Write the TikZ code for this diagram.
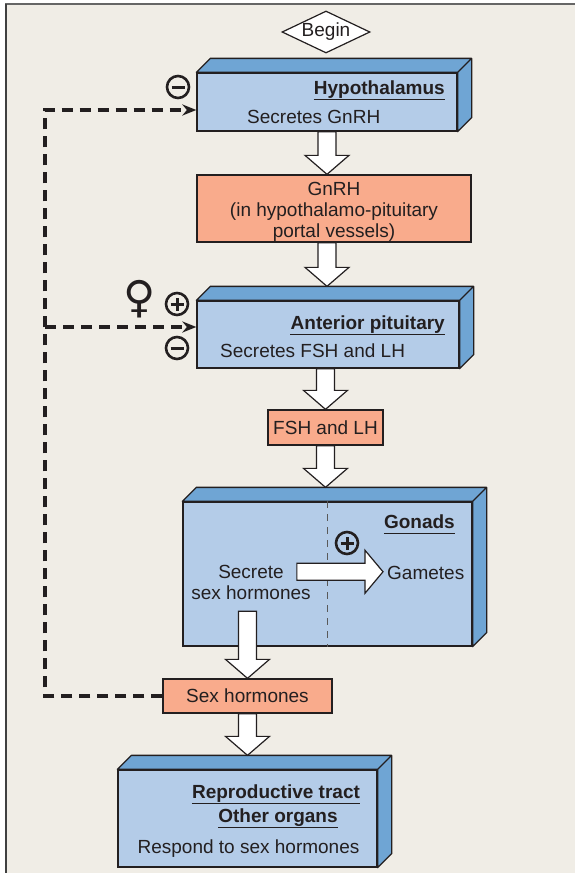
\documentclass[tikz,border=0pt]{standalone}
\usepackage{fontspec}
\setmainfont{Liberation Sans}
\newfontfamily\symfont{DejaVu Sans}
\usetikzlibrary{shapes.geometric,arrows.meta,calc}

\definecolor{paper}{HTML}{F0EDE6}
\definecolor{facelight}{HTML}{B4CCE8}
\definecolor{facedark}{HTML}{6FA5D4}
\definecolor{salmon}{HTML}{F9AB8C}
\definecolor{ink}{HTML}{231F20}

% broad white arrows: shaft from #1, tip at #2
\newcommand\fatdown[2]{%
  \draw[fat] let \p1=(#1), \p2=(#2) in
    (\x2-9pt,\y1) -- (\x2-9pt,\y2+19pt) -- (\x2-22pt,\y2+19pt) -- (\x2,\y2)
    -- (\x2+22pt,\y2+19pt) -- (\x2+9pt,\y2+19pt) -- (\x2+9pt,\y1) -- cycle;}
\newcommand\fatright[2]{%
  \draw[fat] let \p1=(#1), \p2=(#2) in
    (\x1,\y2+8.5pt) -- (\x2-18pt,\y2+8.5pt) -- (\x2-18pt,\y2+21.5pt) -- (\x2,\y2)
    -- (\x2-18pt,\y2-21.5pt) -- (\x2-18pt,\y2-8.5pt) -- (\x1,\y2-8.5pt) -- cycle;}

\begin{document}
\begin{tikzpicture}[x=1pt, y=-1pt]
    \tikzstyle{every node} = [font=\fontsize{19}{21}\selectfont, text=ink]
    \tikzstyle{box} = [rectangle, draw=ink, line width=1.3pt, fill=facelight, inner sep=0pt]
    \tikzstyle{tag} = [rectangle, draw=ink, line width=1.3pt, fill=salmon, inner sep=0pt, align=center]
    \tikzstyle{side} = [draw=ink, line width=1.3pt, fill=facedark, line join=round]
    \tikzstyle{txt} = [inner sep=0pt, text height=14pt, text depth=4.5pt]
    \tikzstyle{title} = [txt, text depth=5pt, font=\fontsize{19}{21}\selectfont\bfseries]
    \tikzstyle{fat} = [draw=ink, line width=1.2pt, fill=white, line join=miter]
    \tikzstyle{fb} = [draw=ink, line width=3.3pt, dash pattern=on 11pt off 7pt, -{Stealth[length=14pt,width=11pt]}]
    \tikzstyle{sign} = [circle, draw=ink, line width=2.6pt, minimum size=22pt, inner sep=0pt]
    \tikzstyle{minussign} = [sign, path picture={
        \draw[line width=3pt] ([xshift=-6.5pt]path picture bounding box.center) -- ([xshift=6.5pt]path picture bounding box.center);}]
    \tikzstyle{plussign} = [sign, path picture={
        \draw[line width=3pt] ([xshift=-6.5pt]path picture bounding box.center) -- ([xshift=6.5pt]path picture bounding box.center);
        \draw[line width=3pt] ([yshift=-6.5pt]path picture bounding box.center) -- ([yshift=6.5pt]path picture bounding box.center);}]

    \useasboundingbox (0,0) rectangle (575,873);
    \fill[paper] (6,4) rectangle (575,873);
    \draw[line width=2pt, black!60] (5,4) -- (575,4);
    \draw[line width=2pt, black!75] (6,4) -- (6,873);

    \node[diamond, shape aspect=2.1, draw=ink, line width=1.2pt, fill=white, minimum width=88pt, minimum height=42pt,
          inner sep=0pt, text height=13pt, text depth=4pt] (begin) at (326,32) {Begin};

    \node[box, minimum width=260pt, minimum height=58pt] (hyp) at (327,102) {};
    \node[tag, minimum width=274pt, minimum height=67pt] (gnrh) at (334,208.5) {\rule{0pt}{19.5pt}GnRH\\(in hypothalamo-pituitary\\portal vessels)};
    \node[box, minimum width=262pt, minimum height=67pt] (ant) at (328,334.5) {};
    \node[tag, minimum width=115pt, minimum height=35pt] (fsh) at (325.5,427.5) {FSH and LH};
    \node[box, minimum width=289pt, minimum height=144pt] (gon) at (327.5,574) {};
    \node[tag, minimum width=169pt, minimum height=34pt] (sexh) at (247.5,696) {Sex hormones};
    \node[box, minimum width=259pt, minimum height=97pt] (tgt) at (247.5,818.5) {};

    % top and right faces of the blocks
    \foreach \b in {hyp,ant,gon,tgt}
        \filldraw[side] (\b.north west) -- ++(14,-14) -| ([shift={(14,-14)}]\b.south east)
            -- (\b.south east) -- (\b.north east) -- cycle
            (\b.north east) -- ++(14,-14);

    \draw[black!65, line width=1pt, dash pattern=on 7pt off 6pt] (gon.north) -- (gon.south);

    \node[title, anchor=base east] (hyptitle) at (445,94) {Hypothalamus};
    \node[txt, anchor=base west] (hyptext) at (247,123) {Secretes GnRH};
    \node[title, anchor=base east] (anttitle) at (445,329) {Anterior pituitary};
    \node[txt, anchor=base west] (anttext) at (220,357) {Secretes FSH and LH};
    \node[title, anchor=base east] (gontitle) at (455,528) {Gonads};
    \node[txt, anchor=base west] (gam) at (387,579) {Gametes};
    \node[inner sep=0pt, align=center] (secr) at (251,582.3) {Secrete\\sex hormones};
    \node[title, anchor=base] (tract) at (276,798) {Reproductive tract};
    \node[title, anchor=base] (organs) at (278,822) {Other organs};
    \node[txt, anchor=base] (resp) at (248.5,853) {Respond to sex hormones};
    \foreach \t in {hyptitle,anttitle,gontitle,tract,organs}
        \draw[ink, line width=1.1pt] (\t.south west) -- (\t.south east);

    \coordinate (gonout) at ([yshift=-11.5pt]secr.south);
    \fatdown{hyp.south}{hyp.south |- gnrh.north}
    \fatdown{gnrh.south}{$(hyp.south |- ant.north)+(0,-14)$}
    \fatdown{ant.south}{fsh.north}
    \fatdown{fsh.south}{$(fsh.south |- gon.north)+(0,-14)$}
    \fatdown{gonout}{sexh.north}
    \fatdown{sexh.south}{$(sexh.south |- tgt.north)+(0,-14)$}
    \fatright{[xshift=-14pt]secr.east}{[xshift=-4pt,yshift=2.5pt]gam.west}

    \node[minussign] (hypneg) at (178,87) {};
    \node[plussign] (antpos) at (177,304) {};
    \node[minussign] (antneg) at (177,348) {};
    \node[plussign] (gonpos) at (347,543) {};
    \node[font=\symfont\fontsize{44}{44}\selectfont, inner sep=0pt] (fem) at (140,299) {♀};

    % feedback from the sex hormones
    \coordinate (fbx) at (45,0);
    \coordinate (hypin) at ([yshift=-8pt]hyp.west);
    \coordinate (antin) at ([yshift=7.5pt]ant.west);
    \draw[fb] (sexh.west) -- (sexh.west -| fbx) |- (hypin);
    \draw[fb] (fbx |- antin) -- (antin);
\end{tikzpicture}
\end{document}
